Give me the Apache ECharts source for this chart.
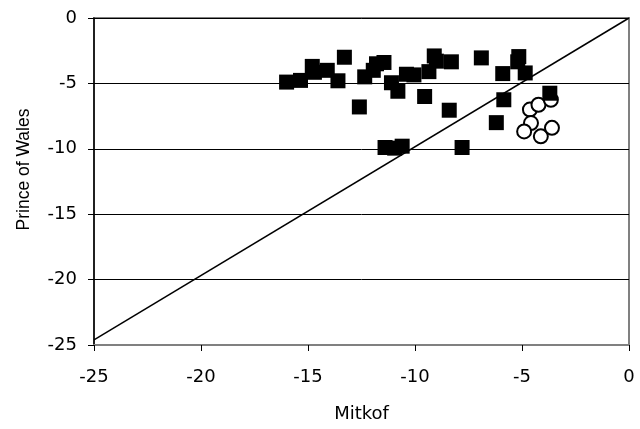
<!DOCTYPE html>
<html><head><meta charset="utf-8">
<script src="https://cdn.jsdelivr.net/npm/echarts@6/dist/echarts.min.js"></script>
<style>html,body{margin:0;padding:0;background:#fff}#c{width:640px;height:429px}</style>
</head><body><div id="c"></div>
<script>
const squaresX = [-16.0,-15.35,-14.8,-14.7,-14.1,-13.6,-13.3,-12.6,-12.35,-11.95,-11.8,-11.45,-11.1,-10.8,-10.4,-10.05,-9.55,-9.35,-9.1,-9.0,-8.3,-8.4,-6.9,-6.2,-5.9,-5.85,-5.15,-5.2,-4.85,-3.7,-11.4,-10.95,-10.6,-7.8];
const squaresY = [-4.9,-4.77,-3.7,-4.15,-4.0,-4.8,-3.0,-6.8,-4.5,-4.0,-3.5,-3.4,-4.95,-5.6,-4.3,-4.35,-6.0,-4.1,-2.9,-3.3,-3.35,-7.05,-3.05,-8.0,-4.25,-6.25,-2.95,-3.35,-4.2,-5.75,-9.9,-9.95,-9.8,-9.9];
const circlesX = [-4.63,-4.23,-3.65,-4.58,-4.9,-4.12,-3.6];
const circlesY = [-7.0,-6.63,-6.25,-8.03,-8.67,-9.05,-8.4];
const lineX = [-25, 0];
const lineY = [-24.6, 0];
const xTitle = 'Mitkof';
const yTitle = 'Prince of Wales';

const zip = (a, b) => a.map((v, i) => [v, b[i]]);
const wide = 'DejaVu Sans, Verdana, sans-serif';
const narrow = 'Liberation Sans, Arial, sans-serif';
const chart = echarts.init(document.getElementById('c'), null, {renderer: 'canvas'});
chart.setOption({
  animation: false,
  grid: {left: 94, right: 11, top: 18, bottom: 84, show: true, borderColor: '#808080', borderWidth: 2, backgroundColor: '#fff'},
  xAxis: {
    type: 'value', min: -25, max: 0, interval: 5,
    name: xTitle, nameLocation: 'middle', nameGap: 60,
    nameTextStyle: {fontFamily: wide, fontSize: 18, color: '#000'},
    axisLine: {show: true, onZero: false, lineStyle: {color: '#808080', width: 2}},
    axisTick: {show: true, inside: false, length: 6, lineStyle: {color: '#000'}},
    axisLabel: {fontFamily: wide, fontSize: 18, color: '#000', margin: 23},
    splitLine: {show: false}
  },
  yAxis: {
    type: 'value', min: -25, max: 0, interval: 5,
    name: yTitle, nameLocation: 'middle', nameGap: 61,
    nameTextStyle: {fontFamily: narrow, fontSize: 17.5, color: '#000', padding: [0, 0, 0, 24]},
    axisLine: {show: true, onZero: false, lineStyle: {color: '#000', width: 1.5}},
    axisTick: {show: true, inside: false, length: 6, lineStyle: {color: '#000'}},
    axisLabel: {fontFamily: wide, fontSize: 18, color: '#000', margin: 17},
    splitLine: {show: true, lineStyle: {color: '#000', width: 1}}
  },
  series: [
    {type: 'line', data: zip(lineX, lineY), symbol: 'none', lineStyle: {color: '#000', width: 1.5}, z: 1},
    {type: 'scatter', data: zip(circlesX, circlesY), symbol: 'circle', symbolSize: 14,
     itemStyle: {color: '#fff', borderColor: '#000', borderWidth: 2, opacity: 1}, z: 2},
    {type: 'scatter', data: zip(squaresX, squaresY), symbol: 'rect', symbolSize: 15,
     itemStyle: {color: '#000', opacity: 1}, z: 3}
  ]
});
</script></body></html>
